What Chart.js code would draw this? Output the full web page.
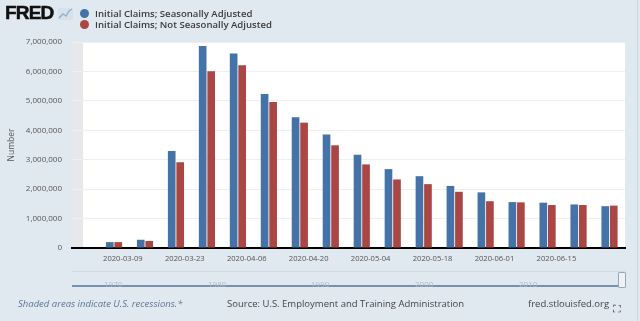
<!DOCTYPE html>
<html><head><meta charset="utf-8">
<script src="https://cdn.jsdelivr.net/npm/chart.js@4"></script>
<style>
html,body{margin:0;padding:0;}
body{width:640px;height:321px;background:#e1e9f0;position:relative;overflow:hidden;font-family:"Open Sans",sans-serif;}
#wrap{position:absolute;left:0;top:0;width:640px;height:321px;}
.abs{position:absolute;white-space:nowrap;}
#logo{left:5px;top:2px;font-family:"Liberation Sans",Arial,sans-serif;font-weight:900;font-size:19px;letter-spacing:-0.8px;color:#111;-webkit-text-stroke:0.5px #111;}
.leg{left:80px;font-size:9.6px;font-weight:600;color:#3b3b3b;}
.dot{display:inline-block;width:9px;height:9px;border-radius:50%;margin-right:6px;vertical-align:-1px;}
.foot{top:297px;font-size:9.5px;color:#444;}
.yr{top:278px;font-size:8px;color:#b0bac4;}
</style></head>
<body>
<div id="wrap"><canvas id="c" width="640" height="321"></canvas></div>
<div class="abs" id="logo">FRED</div>
<svg class="abs" style="left:58px;top:8px" width="15" height="12" viewBox="0 0 15 12"><rect x="0" y="0" width="15" height="12" fill="#d6e1ec"/><polyline points="1,10 5,6 8,8 11,3 14,1" fill="none" stroke="#8fb0cf" stroke-width="1.4"/></svg>
<div class="abs leg" style="top:7px"><span class="dot" style="background:#4572a7"></span>Initial Claims; Seasonally Adjusted</div>
<div class="abs leg" style="top:18px"><span class="dot" style="background:#aa4643"></span>Initial Claims; Not Seasonally Adjusted</div>
<div class="abs" style="left:72px;top:271px;width:553px;height:1px;background:#cfd9e3"></div>
<div class="abs" style="left:72px;top:285px;width:553px;height:2px;background:#7592b0"></div>
<div class="abs yr" style="left:104px">1970</div>
<div class="abs yr" style="left:208px">1980</div>
<div class="abs yr" style="left:311px">1990</div>
<div class="abs yr" style="left:415px">2000</div>
<div class="abs yr" style="left:519px">2010</div>
<div class="abs" style="left:618px;top:272px;width:6px;height:14px;border:1px solid #9aa8b6;background:#eef2f6;border-radius:1px"></div>
<div class="abs" style="left:637px;top:0;width:1px;height:321px;background:#c7d3df"></div>
<div class="abs foot" style="left:18px;color:#5a7593;font-style:italic">Shaded areas indicate U.S. recessions.*</div>
<div class="abs foot" style="left:227px">Source: U.S. Employment and Training Administration</div>
<div class="abs foot" style="left:528px">fred.stlouisfed.org</div>
<div class="abs" style="left:613px;top:301px;font-size:11px;color:#333">⛶</div>
<script>
// ---- data ----
const weeks = ['2020-03-07','2020-03-14','2020-03-21','2020-03-28','2020-04-04','2020-04-11','2020-04-18','2020-04-25','2020-05-02','2020-05-09','2020-05-16','2020-05-23','2020-05-30','2020-06-06','2020-06-13','2020-06-20','2020-06-27'];
const seasonallyAdjusted = [200000,280000,3300000,6860000,6610000,5230000,4440000,3860000,3170000,2680000,2440000,2110000,1890000,1560000,1540000,1480000,1420000];
const notSeasonallyAdjusted = [200000,240000,2910000,6010000,6210000,4960000,4260000,3490000,2840000,2330000,2170000,1910000,1590000,1550000,1460000,1460000,1440000];
const tickLabels = ['2020-03-09','2020-03-23','2020-04-06','2020-04-20','2020-05-04','2020-05-18','2020-06-01','2020-06-15'];
const yMax = 7000000, yStep = 1000000;
const shadeEnd = '2020-02-29';
const seriesNames = ['Initial Claims; Seasonally Adjusted','Initial Claims; Not Seasonally Adjusted'];
const colors = ['#4572a7','#aa4643'];

const day = s => { const [y,m,d] = s.split('-').map(Number); return Date.UTC(y,m-1,d)/86400000; };
const labelByDay = {}; tickLabels.forEach(t => labelByDay[day(t)] = t);
const xMin = day(weeks[0]) - 9.5, xMax = day(weeks[weeks.length-1]) + 3.5;

const bgPlugin = {
  id:'bg',
  beforeDraw(chart){
    const {ctx, chartArea:a, scales:{x}} = chart;
    ctx.save();
    ctx.fillStyle = '#ffffff';
    ctx.fillRect(a.left, a.top, a.right-a.left, a.bottom-a.top);
    const px = Math.max(a.left, Math.min(a.right, x.getPixelForValue(day(shadeEnd))));
    ctx.fillStyle = '#e6e8eb';
    ctx.fillRect(a.left, a.top, px-a.left, a.bottom-a.top);
    ctx.restore();
  }
};

new Chart(document.getElementById('c'), {
  type:'bar',
  data:{
    datasets:[
      {label:seriesNames[0], data:weeks.map((w,i)=>({x:day(w), y:seasonallyAdjusted[i]})), backgroundColor:colors[0], borderWidth:0},
      {label:seriesNames[1], data:weeks.map((w,i)=>({x:day(w), y:notSeasonallyAdjusted[i]})), backgroundColor:colors[1], borderWidth:0}
    ]
  },
  options:{
    responsive:false, animation:false,
    categoryPercentage:0.55, barPercentage:0.9,
    layout:{padding:{left:0, right:15, top:42, bottom:0}},
    plugins:{legend:{display:false}, tooltip:{enabled:false}},
    scales:{
      x:{
        type:'linear', min:xMin, max:xMax, offset:false,
        grid:{display:false, drawTicks:false},
        border:{display:true, color:'#000000', width:2},
        afterBuildTicks: s => { s.ticks = tickLabels.map(t => ({value:day(t)})); },
        afterFit: s => { s.height = 73; },
        ticks:{autoSkip:false, maxRotation:0, padding:6, color:'#555', font:{family:'Open Sans', size:7.6},
          callback: v => labelByDay[v] || ''}
      },
      y:{
        min:0, max:yMax,
        grid:{color:'#efefef', drawTicks:false, lineWidth:1},
        border:{display:false},
        afterFit: s => { s.width = 72; },
        ticks:{stepSize:yStep, padding:10, color:'#555', font:{family:'Open Sans', size:8},
          callback: v => v.toLocaleString('en-US')},
        title:{display:true, text:'Number', color:'#555', font:{family:'Open Sans', size:8.5}, padding:{top:6, bottom:0}}
      }
    }
  },
  plugins:[bgPlugin]
});
</script>
</body></html>
